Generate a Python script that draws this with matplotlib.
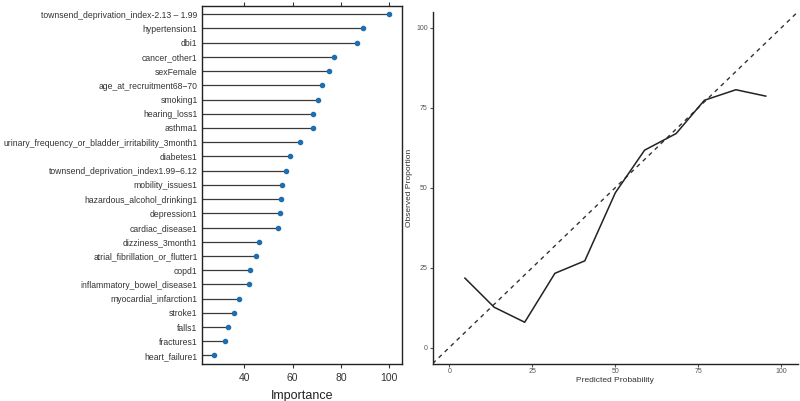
import matplotlib
matplotlib.use("Agg")
import matplotlib.pyplot as plt
import numpy as np

plt.rcParams["font.family"] = ["Liberation Sans", "DejaVu Sans"]

# Variable importance (top to bottom)
features = [
    "townsend_deprivation_index-2.13 \u2013 1.99",
    "hypertension1",
    "dbi1",
    "cancer_other1",
    "sexFemale",
    "age_at_recruitment68\u221270",
    "smoking1",
    "hearing_loss1",
    "asthma1",
    "urinary_frequency_or_bladder_irritability_3month1",
    "diabetes1",
    "townsend_deprivation_index1.99\u22126.12",
    "mobility_issues1",
    "hazardous_alcohol_drinking1",
    "depression1",
    "cardiac_disease1",
    "dizziness_3month1",
    "atrial_fibrillation_or_flutter1",
    "copd1",
    "inflammatory_bowel_disease1",
    "myocardial_infarction1",
    "stroke1",
    "falls1",
    "fractures1",
    "heart_failure1",
]
importance = [100.0, 89.2, 86.6, 77.2, 75.0, 72.1, 70.5, 68.4, 68.3, 63.2,
              58.9, 57.1, 55.6, 55.3, 54.8, 53.8, 46.2, 44.7, 42.4, 41.9,
              37.9, 35.6, 33.3, 32.2, 27.3]

# Calibration curve
pred_prob = [4.7, 13.5, 22.7, 31.8, 40.8, 50.0, 58.8, 68.3, 76.8, 86.3, 95.3]
obs_prop = [21.7, 12.6, 7.9, 23.2, 27.1, 48.4, 61.7, 66.9, 77.3, 80.6, 78.6]

fig = plt.figure(figsize=(8, 4.01), dpi=100)

# ---- left: lollipop importance plot
ax1 = fig.add_axes([201.7 / 800, 37 / 401, 200 / 800, 358.3 / 401])
ypos = np.arange(len(features))[::-1]
xmin = 22.4
ax1.hlines(ypos, xmin, importance, color="#3a3a3a", linewidth=0.9)
ax1.scatter(importance, ypos, s=9, color="#1f6fb0", zorder=3)
ax1.set_xlim(xmin, 105.1)
ax1.set_ylim(-0.6, len(features) - 0.4)
ax1.set_yticks(ypos)
ax1.set_yticklabels(features, fontsize=6.25, color="#333333")
ax1.set_xticks([40, 60, 80, 100])
ax1.tick_params(axis="y", length=0, pad=3)
ax1.tick_params(axis="x", labelsize=7.5, colors="#333333", length=3,
                top=True, direction="out")
ax1.set_xlabel("Importance", fontsize=9, color="#222222", labelpad=5)
for s in ax1.spines.values():
    s.set_color("#222222")
    s.set_linewidth(1.0)

# ---- right: calibration plot
ax2 = fig.add_axes([432.7 / 800, 37.5 / 401, 365.3 / 800, 351.8 / 401])
ax2.plot([-5, 105], [-5, 105], linestyle=(0, (3, 3)), color="#333333", linewidth=1.0)
ax2.plot(pred_prob, obs_prop, color="#222222", linewidth=1.1)
ax2.set_xlim(-5, 105)
ax2.set_ylim(-5, 105)
ax2.set_xticks([0, 25, 50, 75, 100])
ax2.set_yticks([0, 25, 50, 75, 100])
ax2.tick_params(labelsize=5, colors="#555555", length=2, width=0.8, pad=1.5)
ax2.set_xlabel("Predicted Probability", fontsize=6, color="#333333", labelpad=1)
ax2.set_ylabel("Observed Proportion", fontsize=6, color="#333333", labelpad=2)
ax2.spines["top"].set_visible(False)
ax2.spines["right"].set_visible(False)
for s in ["left", "bottom"]:
    ax2.spines[s].set_color("#222222")
    ax2.spines[s].set_linewidth(1.0)

fig.savefig("out.png", dpi=100)
